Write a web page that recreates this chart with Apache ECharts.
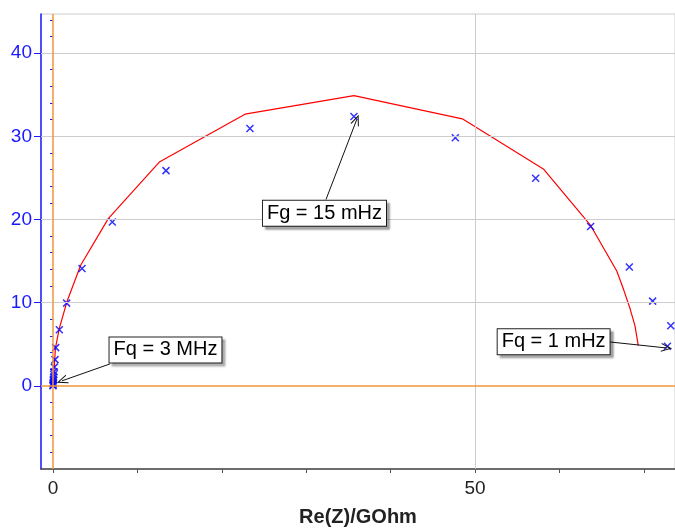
<!DOCTYPE html>
<html>
<head>
<meta charset="utf-8">
<script src="https://cdn.jsdelivr.net/npm/echarts@6/dist/echarts.min.js"></script>
<style>
  html, body { margin: 0; padding: 0; background: #fff; }
  #main { width: 675px; height: 532px; }
</style>
</head>
<body>
<div id="main"></div>
<script>
// measured points (Re, -Im) in GOhm
var measured = [
    [0, 0], [0.01, 0.1], [0.02, 0.25], [0.03, 0.4], [0.04, 0.6], [0.05, 0.8],
    [0.07, 1.05], [0.09, 1.35], [0.12, 1.7], [0.16, 2.25], [0.24, 3.15],
    [0.32, 4.59], [0.75, 6.74], [1.62, 9.94], [3.44, 14.1], [7.03, 19.7],
    [13.39, 25.87], [23.34, 30.93], [35.66, 32.37], [47.67, 29.82],
    [57.19, 24.95], [63.7, 19.16], [68.29, 14.29], [71.05, 10.18],
    [73.2, 7.22], [72.8, 4.75]
];
// fitted curve
var fitted = [
    [0, 0], [0.05, 1], [0.15, 2.3], [0.3, 4.6], [0.75, 6.9], [1.65, 10.1],
    [3.28, 14.5], [6.55, 20.1], [12.6, 26.9], [22.75, 32.66], [35.66, 34.89],
    [48.5, 32.1], [58.1, 26.07], [63.7, 19.28], [66.8, 13.8], [67.6, 11.6],
    [68.4, 9.2], [68.96, 7.2], [69.35, 4.83]
];
var xLabels = [0, 50];
var xTicks = [0, 10, 20, 30, 40, 50, 60, 70];
var yLabels = [0, 10, 20, 30, 40];
var yMinorTicks = [-8, -6, -4, -2, 2, 4, 6, 8, 12, 14, 16, 18, 22, 24, 26, 28,
    32, 34, 36, 38, 42, 44];
var xGrid = [50];
var yGrid = [10, 20, 30, 40];
// annotations: text, box centre, arrow start, arrow end
var notes = [
    { text: 'Fq = 3 MHz', box: [13.33, 4.31], from: [6.75, 2.63], to: [1.07, 0.6] },
    { text: 'Fg = 15 mHz', box: [32.17, 20.75], from: [32.35, 22.4], to: [35.98, 31.98] },
    { text: 'Fq = 1 mHz', box: [59.32, 5.31], from: [66.0, 5.27], to: [72.71, 4.55] }
];

var blue = '#1a1aff';
var orange = '#f0963c';
var gray = '#cccccc';
var chevron = 'path://M5,0 L10,10 L8.8,10 L5,2.4 L1.2,10 L0,10 Z';
var cross = 'path://M0,0 L10,10 M10,0 L0,10';

var gridLines = [];
xGrid.forEach(function (v) {
    gridLines.push({ xAxis: v, lineStyle: { color: gray, width: 1, type: 'solid' } });
});
yGrid.forEach(function (v) {
    gridLines.push({ yAxis: v, lineStyle: { color: gray, width: 1, type: 'solid' } });
});
gridLines.push({ xAxis: 0, lineStyle: { color: orange, width: 1.5, type: 'solid' } });
gridLines.push({ yAxis: 0, lineStyle: { color: orange, width: 1.5, type: 'solid' } });

var myChart = echarts.init(document.getElementById('main'));
option = {
    backgroundColor: '#fff',
    animation: false,
    grid: {
        left: 41, right: 0, top: 14, bottom: 62,
        show: true, borderColor: gray, borderWidth: 1
    },
    xAxis: {
        type: 'value',
        min: -1.42,
        max: 73.7,
        name: 'Re(Z)/GOhm',
        nameLocation: 'middle',
        nameGap: 38,
        nameTextStyle: { fontFamily: 'Liberation Sans', fontSize: 20, fontWeight: 'bold', color: '#222' },
        axisLine: { onZero: false, lineStyle: { color: '#444', width: 1.5 } },
        axisTick: { customValues: xTicks, length: 4, lineStyle: { color: '#555' } },
        axisLabel: { customValues: xLabels, margin: 10, fontFamily: 'Liberation Sans', fontSize: 19, color: '#222' },
        splitLine: { show: false }
    },
    yAxis: [
        {
            type: 'value',
            min: -10,
            max: 44.7,
            position: 'left',
            axisLine: { onZero: false, lineStyle: { color: blue, width: 1.5 } },
            axisTick: { customValues: yLabels, length: 7, lineStyle: { color: blue } },
            axisLabel: { customValues: yLabels, margin: 9, fontFamily: 'Liberation Sans', fontSize: 19, color: blue },
            splitLine: { show: false }
        },
        {
            type: 'value',
            min: -10,
            max: 44.7,
            position: 'left',
            axisLine: { show: false },
            axisTick: { customValues: yMinorTicks, length: 3, lineStyle: { color: blue } },
            axisLabel: { show: false },
            splitLine: { show: false }
        }
    ],
    series: [
        {
            name: 'grid',
            type: 'line',
            data: [],
            z: 1,
            markLine: {
                silent: true,
                symbol: ['none', 'none'],
                label: { show: false },
                data: gridLines
            }
        },
        {
            name: 'fit',
            type: 'line',
            data: fitted,
            z: 3,
            showSymbol: false,
            lineStyle: { color: '#ff0000', width: 1.2 }
        },
        {
            name: 'measured',
            type: 'scatter',
            data: measured,
            z: 4,
            symbol: cross,
            symbolSize: 7,
            itemStyle: { color: 'transparent', borderColor: '#0000ff', borderWidth: 1.5 }
        },
        {
            name: 'notes',
            type: 'line',
            data: [],
            z: 5,
            markLine: {
                silent: true,
                symbol: ['none', chevron],
                symbolSize: [9, 11],
                label: { show: false },
                lineStyle: { color: '#111', width: 1, type: 'solid' },
                data: notes.map(function (n) {
                    return [{ coord: n.from }, { coord: n.to }];
                })
            },
            markPoint: {
                silent: true,
                symbol: 'rect',
                symbolSize: 0,
                label: {
                    show: true,
                    position: 'inside',
                    fontFamily: 'Liberation Sans',
                    fontSize: 20,
                    color: '#000',
                    backgroundColor: '#fff',
                    borderColor: '#222',
                    borderWidth: 1,
                    padding: [3, 4, 2, 4],
                    shadowColor: 'rgba(0,0,0,0.3)',
                    shadowOffsetX: 3,
                    shadowOffsetY: 3,
                    shadowBlur: 2,
                    formatter: function (p) { return p.name; }
                },
                data: notes.map(function (n) {
                    return { name: n.text, coord: n.box };
                })
            }
        }
    ]
};
myChart.setOption(option);
</script>
</body>
</html>
